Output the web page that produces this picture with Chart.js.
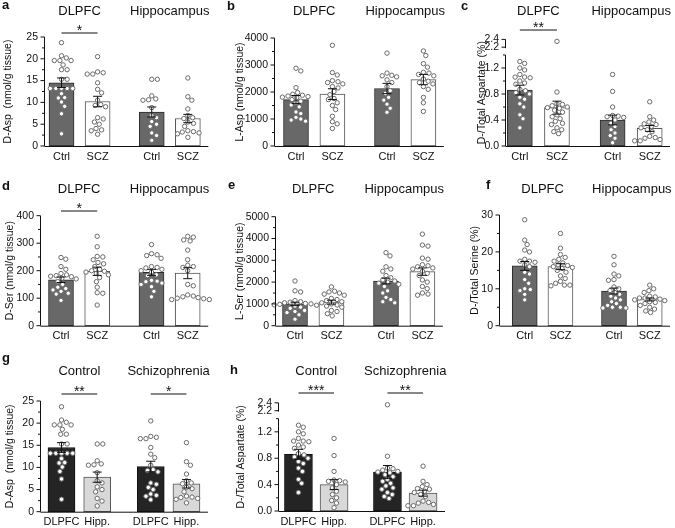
<!DOCTYPE html>
<html>
<head>
<meta charset="utf-8">
<script src="https://cdn.jsdelivr.net/npm/chart.js@4.4.1/dist/chart.umd.min.js"></script>
<style>
  html, body { margin: 0; padding: 0; background: #fff; }
  #fig { position: relative; width: 675px; height: 528px; overflow: hidden; }
  #fig canvas { position: absolute; }
  .letter { position: absolute; font: bold 13px "Liberation Sans", Arial, sans-serif; line-height: 13px; color: #111; }
</style>
</head>
<body>
<div id="fig"></div>
<script>
// ---- labels ----
const groupLabels = ['Ctrl', 'SCZ', 'Ctrl', 'SCZ'];
const regionLabels = ['DLPFC', 'Hippocampus'];
const tissueLabels = ['DLPFC', 'Hipp.', 'DLPFC', 'Hipp.'];
const diagnosisLabels = ['Control', 'Schizophrenia'];

// ---- D-Asp (nmol/g tissue) ----
const dAspMeans = [14.5, 10.2, 7.8, 6.3];
const dAspSems = [1.1, 1.2, 1.15, 0.95];
const dAspCtrlDlpfc = [23.7, 20.7, 20.2, 19.6, 19.6, 19.6, 18.6, 17.5, 17.5, 15.3, 15.3, 13.2, 13.2, 13.2, 13.2, 13.2, 12.0, 11.1, 11.0, 10.1, 9.1, 7.4, 2.8];
const dAspSczDlpfc = [20.5, 17.0, 16.8, 16.5, 16.5, 14.5, 13.0, 12.2, 10.5, 9.5, 9.3, 9.0, 6.5, 6.2, 5.5, 5.0, 4.0, 3.7, 3.5, 2.7];
const dAspCtrlHipp = [15.3, 15.3, 11.5, 10.8, 10.6, 10.5, 8.8, 7.0, 6.5, 5.6, 5.0, 4.5, 3.0, 2.4, 1.3];
const dAspSczHipp = [15.6, 11.3, 10.5, 8.5, 7.0, 6.5, 6.3, 5.5, 5.2, 4.5, 3.5, 3.3, 3.2, 3.0, 2.8, 2.0];

// ---- L-Asp (nmol/g tissue) ----
const lAspMeans = [1720, 1920, 2130, 2460];
const lAspSems = [150, 200, 190, 190];
const lAspCtrlDlpfc = [2880, 2780, 2160, 1980, 1920, 1880, 1850, 1830, 1810, 1790, 1720, 1660, 1600, 1520, 1450, 1260, 1200, 1060, 1000, 960, 920];
const lAspSczDlpfc = [3730, 2720, 2630, 2420, 2380, 2350, 2300, 2200, 2150, 2020, 1900, 1760, 1720, 1600, 1500, 1350, 1100, 900, 820, 650];
const lAspCtrlHipp = [3440, 2700, 2620, 2600, 2560, 2450, 2350, 2200, 2050, 1950, 1800, 1700, 1550, 1400, 1250];
const lAspSczHipp = [3520, 3350, 3050, 2920, 2730, 2700, 2650, 2600, 2480, 2400, 2350, 2300, 2200, 2100, 1800, 1600, 1280];

// ---- D-/Total Aspartate (%) ----
const dAspRatioMeans = [0.86, 0.59, 0.40, 0.27];
const dAspRatioSems = [0.075, 0.1, 0.075, 0.045];
const dAspRatioCtrlDlpfc = [1.30, 1.27, 1.20, 1.17, 1.10, 1.06, 1.06, 1.05, 1.0, 0.97, 0.95, 0.87, 0.85, 0.82, 0.80, 0.75, 0.72, 0.65, 0.60, 0.48, 0.42, 0.28];
const dAspRatioSczDlpfc = [2.35, 0.83, 0.65, 0.64, 0.62, 0.60, 0.59, 0.58, 0.55, 0.52, 0.48, 0.45, 0.42, 0.38, 0.35, 0.33, 0.28, 0.25, 0.22, 0.19];
const dAspRatioCtrlHipp = [1.10, 0.84, 0.60, 0.47, 0.46, 0.45, 0.44, 0.40, 0.35, 0.30, 0.25, 0.20, 0.16, 0.12, 0.05];
const dAspRatioSczHipp = [0.68, 0.45, 0.40, 0.37, 0.34, 0.33, 0.30, 0.28, 0.25, 0.22, 0.15, 0.13, 0.12, 0.10, 0.08, 0.08];

// ---- D-Ser (nmol/g tissue) ----
const dSerMeans = [167, 198, 194, 191];
const dSerSems = [10, 15, 11, 20];
const dSerCtrlDlpfc = [248, 242, 215, 205, 190, 185, 182, 180, 178, 172, 170, 160, 150, 140, 135, 130, 125, 118, 115, 92];
const dSerSczDlpfc = [325, 287, 252, 250, 240, 230, 225, 215, 205, 200, 198, 195, 190, 185, 175, 160, 140, 120, 118, 75];
const dSerCtrlHipp = [295, 262, 258, 255, 245, 215, 212, 210, 205, 200, 195, 185, 182, 165, 162, 160, 155, 150, 142, 125, 105];
const dSerSczHipp = [325, 322, 312, 308, 275, 240, 220, 215, 212, 200, 150, 145, 112, 108, 105, 102, 100, 98, 95, 95];

// ---- L-Ser (nmol/g tissue) ----
const lSerMeans = [1000, 1080, 2050, 2480];
const lSerSems = [80, 90, 130, 170];
const lSerCtrlDlpfc = [2050, 1600, 1550, 1150, 1100, 1080, 1050, 1020, 1000, 980, 960, 940, 900, 850, 800, 700, 650, 600, 500, 300];
const lSerSczDlpfc = [1780, 1580, 1550, 1500, 1450, 1400, 1250, 1200, 1150, 1100, 1050, 1000, 950, 900, 850, 700, 650, 550, 450];
const lSerCtrlHipp = [3350, 3200, 2700, 2600, 2500, 2300, 2200, 2100, 2050, 2000, 1950, 1900, 1800, 1600, 1500, 1300, 1200, 1100, 1050];
const lSerSczHipp = [4200, 3700, 3650, 3100, 3050, 2800, 2750, 2700, 2650, 2600, 2500, 2400, 2300, 2100, 2000, 1800, 1700, 1500, 1450, 1400];

// ---- D-/Total Serine (%) ----
const dSerRatioMeans = [16.2, 16.0, 9.4, 7.1];
const dSerRatioSems = [1.2, 0.8, 0.8, 0.4];
const dSerRatioCtrlDlpfc = [28.7, 23.2, 22.0, 20.5, 20.0, 18.0, 17.5, 17.5, 17.2, 16.5, 16.0, 14.5, 14.0, 12.5, 11.5, 10.0, 9.8, 9.5, 8.5, 7.0];
const dSerRatioSczDlpfc = [25.0, 21.0, 19.3, 18.5, 18.0, 17.5, 17.0, 16.5, 16.3, 16.0, 15.8, 15.5, 15.0, 14.5, 13.5, 12.8, 12.0, 11.5, 11.0, 11.0, 10.8];
const dSerRatioCtrlHipp = [18.8, 16.5, 14.0, 13.5, 12.5, 12.3, 10.5, 10.0, 9.5, 9.0, 8.5, 8.0, 7.5, 7.0, 6.5, 6.0, 5.5, 5.0, 5.0, 4.8, 4.8];
const dSerRatioSczHipp = [11.0, 10.0, 9.5, 9.0, 8.0, 7.8, 7.5, 7.5, 7.2, 7.0, 6.8, 6.5, 6.3, 6.0, 5.5, 5.0, 4.5, 4.0, 3.6];

// region order (Ctrl DLPFC, SCZ DLPFC, Ctrl Hipp, SCZ Hipp) -> diagnosis order (Ctrl DLPFC, Ctrl Hipp, SCZ DLPFC, SCZ Hipp)
const byDiagnosis = arr => [arr[0], arr[2], arr[1], arr[3]];

const barPos = [0, 1, 2.5, 3.5];
const plain = v => v;
// broken axis for the ratio plots: values above 2 are squeezed in above the gap
const broken = v => (v <= 1.45 ? v : 1.52 + (v - 2.2) * 0.6);

const greyFill = ['#686868', '#ffffff', '#686868', '#ffffff'];
const greyEdge = ['#2a2a2a', '#555555', '#2a2a2a', '#555555'];
const darkFill = ['#242424', '#d8d8d8', '#242424', '#d8d8d8'];
const darkEdge = ['#111111', '#555555', '#111111', '#555555'];

function steps(max, step) {
  const out = [];
  for (let v = 0; v <= max + 1e-9; v += step) out.push(+v.toFixed(4));
  return out;
}

const ratioTicks = { major: [0, 0.4, 0.8, 1.2, 2.2, 2.4], minor: [0.2, 0.6, 1.0, 1.4], fmt: v => v.toFixed(1) };

const panels = [
  { id: 'a', box: [0, 0, 225, 175], axisX: 45, zeroY: 146, topY: 37, c0: 61.5, unit: 36.1, barW: 25,
    yMax: 25, major: steps(25, 5), minor: steps(25, 2.5), fmt: v => String(v), tf: plain,
    yTitle: 'D-Asp  (nmol/g tissue)', titleX: 8, headers: regionLabels, headerY: 15, cats: groupLabels,
    means: dAspMeans, sems: dAspSems, points: [dAspCtrlDlpfc, dAspSczDlpfc, dAspCtrlHipp, dAspSczHipp],
    fill: greyFill, edge: greyEdge, sig: [{ a: 0, b: 1, y: 33, t: '*' }] },
  { id: 'b', box: [225, 0, 225, 175], axisX: 275, zeroY: 146, topY: 38, c0: 296, unit: 36.4, barW: 25,
    yMax: 4000, major: steps(4000, 1000), minor: steps(4000, 500), fmt: v => String(v), tf: plain,
    yTitle: 'L-Asp (nmol/g tissue)', titleX: 240, headers: regionLabels, headerY: 15, cats: groupLabels,
    means: lAspMeans, sems: lAspSems, points: [lAspCtrlDlpfc, lAspSczDlpfc, lAspCtrlHipp, lAspSczHipp],
    fill: greyFill, edge: greyEdge, sig: [] },
  { id: 'c', box: [450, 0, 225, 175], axisX: 506, zeroY: 146, topY: 39.4, c0: 520, unit: 37.5, barW: 25,
    yMax: broken(2.4), major: ratioTicks.major, minor: ratioTicks.minor, fmt: ratioTicks.fmt, tf: broken, breakAxis: true,
    yTitle: 'D-/Total Aspartate (%)', titleX: 482, headers: regionLabels, headerY: 15, cats: groupLabels,
    means: dAspRatioMeans, sems: dAspRatioSems, points: [dAspRatioCtrlDlpfc, dAspRatioSczDlpfc, dAspRatioCtrlHipp, dAspRatioSczHipp],
    fill: greyFill, edge: greyEdge, sig: [{ a: 0, b: 1, y: 30, t: '**' }] },
  { id: 'd', box: [0, 175, 225, 175], axisX: 41, zeroY: 325.7, topY: 215.7, c0: 61, unit: 36.2, barW: 25,
    yMax: 400, major: steps(400, 100), minor: steps(400, 50), fmt: v => String(v), tf: plain,
    yTitle: 'D-Ser (nmol/g tissue)', titleX: 10, headers: regionLabels, headerY: 193, cats: groupLabels,
    means: dSerMeans, sems: dSerSems, points: [dSerCtrlDlpfc, dSerSczDlpfc, dSerCtrlHipp, dSerSczHipp],
    fill: greyFill, edge: greyEdge, sig: [{ a: 0, b: 1, y: 211, t: '*' }] },
  { id: 'e', box: [225, 175, 225, 175], axisX: 276, zeroY: 325.7, topY: 216.7, c0: 295, unit: 36.4, barW: 25,
    yMax: 5000, major: steps(5000, 1000), minor: steps(5000, 500), fmt: v => String(v), tf: plain,
    yTitle: 'L-Ser (nmol/g tissue)', titleX: 240, headers: regionLabels, headerY: 193, cats: groupLabels,
    means: lSerMeans, sems: lSerSems, points: [lSerCtrlDlpfc, lSerSczDlpfc, lSerCtrlHipp, lSerSczHipp],
    fill: greyFill, edge: greyEdge, sig: [] },
  { id: 'f', box: [450, 175, 225, 175], axisX: 500, zeroY: 325.7, topY: 215, c0: 525, unit: 36.1, barW: 25,
    yMax: 30, major: steps(30, 10), minor: steps(30, 5), fmt: v => String(v), tf: plain,
    yTitle: 'D-/Total Serine (%)', titleX: 475, headers: regionLabels, headerY: 193, cats: groupLabels,
    means: dSerRatioMeans, sems: dSerRatioSems, points: [dSerRatioCtrlDlpfc, dSerRatioSczDlpfc, dSerRatioCtrlHipp, dSerRatioSczHipp],
    fill: greyFill, edge: greyEdge, sig: [] },
  { id: 'g', box: [0, 350, 225, 178], axisX: 41, zeroY: 511.7, topY: 401, c0: 61.5, unit: 35.7, barW: 27,
    yMax: 25, major: steps(25, 5), minor: steps(25, 2.5), fmt: v => String(v), tf: plain,
    yTitle: 'D-Asp  (nmol/g tissue)', titleX: 10, headers: diagnosisLabels, headerY: 375, cats: tissueLabels,
    means: byDiagnosis(dAspMeans), sems: byDiagnosis(dAspSems),
    points: byDiagnosis([dAspCtrlDlpfc, dAspSczDlpfc, dAspCtrlHipp, dAspSczHipp]),
    fill: darkFill, edge: darkEdge, sig: [{ a: 0, b: 1, y: 394, t: '**' }, { a: 2.5, b: 3.5, y: 394, t: '*' }] },
  { id: 'h', box: [225, 350, 225, 178], axisX: 279, zeroY: 511, topY: 402.8, c0: 298.5, unit: 35.7, barW: 28,
    yMax: broken(2.4), major: ratioTicks.major, minor: ratioTicks.minor, fmt: ratioTicks.fmt, tf: broken, breakAxis: true,
    yTitle: 'D-/Total Aspartate (%)', titleX: 241, headers: diagnosisLabels, headerY: 375, cats: tissueLabels,
    means: byDiagnosis(dAspRatioMeans), sems: byDiagnosis(dAspRatioSems),
    points: byDiagnosis([dAspRatioCtrlDlpfc, dAspRatioSczDlpfc, dAspRatioCtrlHipp, dAspRatioSczHipp]),
    fill: darkFill, edge: darkEdge, sig: [{ a: 0, b: 1, y: 393, t: '***' }, { a: 2.5, b: 3.5, y: 393, t: '**' }] }
];

const letters = [
  ['a', 2, -2], ['b', 227, -1], ['c', 461, -1],
  ['d', 2, 179], ['e', 228, 177.5], ['f', 486, 178],
  ['g', 2, 351], ['h', 230, 363]
];

const FONT = '"Liberation Sans", Arial, sans-serif';
Chart.defaults.font.family = FONT;
Chart.defaults.color = '#111';

const specs = {};

// axes, error bars, headers and significance marks
const panelDecor = {
  id: 'panelDecor',
  afterDatasetsDraw(chart) {
    const p = specs[chart.canvas.id];
    const { ctx, chartArea: ca, scales: { x, y } } = chart;
    const py = v => y.getPixelForValue(p.tf(v));
    ctx.save();
    ctx.strokeStyle = '#111';
    ctx.fillStyle = '#111';
    ctx.lineWidth = 1;
    const seg = (x1, y1, x2, y2) => { ctx.beginPath(); ctx.moveTo(x1, y1); ctx.lineTo(x2, y2); ctx.stroke(); };

    // error bars
    p.means.forEach((m, i) => {
      const cx = x.getPixelForValue(barPos[i]);
      const hi = py(m + p.sems[i]);
      const lo = py(m - p.sems[i]);
      seg(cx, hi, cx, lo);
      seg(cx - 4.5, hi, cx + 4.5, hi);
      seg(cx - 4.5, lo, cx + 4.5, lo);
    });

    // y axis
    const ax = ca.left - 0.5;
    if (p.breakAxis) {
      seg(ax, py(0), ax, py(1.4));
      seg(ax, py(2.2) + 1, ax, py(2.4));
    } else {
      seg(ax, py(0), ax, py(p.yMax));
    }
    p.major.forEach(v => seg(ax - 4, py(v), ax, py(v)));
    p.minor.forEach(v => { if (!p.major.includes(v)) seg(ax - 2.5, py(v), ax, py(v)); });

    // x baseline
    seg(ax, py(0) + 0.5, ca.right, py(0) + 0.5);

    // group headers
    ctx.font = '13px ' + FONT;
    ctx.textAlign = 'center';
    ctx.textBaseline = 'alphabetic';
    p.headers.forEach((h, i) => {
      const cx = x.getPixelForValue(i === 0 ? 0.5 : 3.0);
      ctx.fillText(h, cx, p.headerY - p.box[1]);
    });

    // significance brackets
    p.sig.forEach(s => {
      const x1 = x.getPixelForValue(s.a);
      const x2 = x.getPixelForValue(s.b);
      const yy = s.y - p.box[1];
      seg(x1, yy, x2, yy);
      ctx.font = '14px ' + FONT;
      ctx.fillText(s.t, (x1 + x2) / 2, yy + 1.5);
    });
    ctx.restore();
  }
};

// spread the dots of each group sideways so they do not overlap
function swarm(chart, p) {
  const { x, y } = chart.scales;
  const gap = 5.0;
  const pts = [];
  p.points.forEach((vals, g) => {
    const cx = x.getPixelForValue(barPos[g]);
    const placed = [];
    vals.slice().sort((a, b) => b - a).forEach(v => {
      const vy = y.getPixelForValue(p.tf(v));
      let off = 0;
      for (let k = 0; k < 60; k++) {
        const cand = (k % 2 ? 1 : -1) * Math.ceil(k / 2) * 0.8;
        const free = placed.every(q => (q[0] - cand) ** 2 + (q[1] - vy) ** 2 >= gap * gap);
        if (free) { off = cand; break; }
      }
      placed.push([off, vy]);
      pts.push({ x: x.getValueForPixel(cx + off), y: p.tf(v) });
    });
  });
  chart.data.datasets[1].data = pts;
  chart.update('none');
}

const fig = document.getElementById('fig');

panels.forEach(p => {
  const [left, top, w, h] = p.box;
  const cv = document.createElement('canvas');
  cv.id = 'panel-' + p.id;
  cv.width = w;
  cv.height = h;
  cv.style.left = left + 'px';
  cv.style.top = top + 'px';
  cv.style.width = w + 'px';
  cv.style.height = h + 'px';
  fig.appendChild(cv);
  specs[cv.id] = p;

  const right = p.c0 + 3.5 * p.unit + p.barW / 2 + 8;
  const xMin = (p.axisX - p.c0) / p.unit;
  const xMax = (right - p.c0) / p.unit;

  const chart = new Chart(cv, {
    type: 'bar',
    data: {
      datasets: [
        {
          type: 'bar',
          data: p.means.map((m, i) => ({ x: barPos[i], y: p.tf(m) })),
          backgroundColor: p.fill,
          borderColor: p.edge,
          borderWidth: 1,
          borderSkipped: false,
          barThickness: p.barW,
          order: 2,
          clip: false
        },
        {
          type: 'scatter',
          data: [],
          pointRadius: 2.2,
          pointBackgroundColor: '#ffffff',
          pointBorderColor: '#6a6a6a',
          pointBorderWidth: 1,
          order: 1,
          clip: false
        }
      ]
    },
    options: {
      responsive: false,
      animation: false,
      devicePixelRatio: 1,
      events: [],
      layout: { padding: { top: p.topY - top, right: left + w - right, left: 0, bottom: 0 } },
      plugins: { legend: { display: false }, tooltip: { enabled: false } },
      scales: {
        x: {
          type: 'linear',
          min: xMin,
          max: xMax,
          offset: false,
          grid: { display: false, drawTicks: false },
          border: { display: false },
          afterBuildTicks: s => { s.ticks = barPos.map(v => ({ value: v })); },
          afterFit: s => { s.height = top + h - p.zeroY; },
          ticks: { autoSkip: false, maxRotation: 0, padding: 4, font: { size: 11 }, color: '#111',
                   callback: (v, i) => p.cats[i] }
        },
        y: {
          type: 'linear',
          min: 0,
          max: p.yMax,
          grid: { display: false, drawTicks: false },
          border: { display: false },
          afterBuildTicks: s => { s.ticks = p.major.map(v => ({ value: p.tf(v) })); },
          afterFit: s => { s.width = p.axisX - left; },
          ticks: { autoSkip: false, padding: 7, font: { size: 10.5 }, color: '#111',
                   callback: (v, i) => p.fmt(p.major[i]) },
          title: { display: true, text: p.yTitle, color: '#111', font: { size: 10.5 },
                   padding: { top: p.titleX - left - 6.3, bottom: 0 } }
        }
      }
    },
    plugins: [panelDecor]
  });
  swarm(chart, p);
});

letters.forEach(([t, lx, ly]) => {
  const d = document.createElement('div');
  d.className = 'letter';
  d.textContent = t;
  d.style.left = lx + 'px';
  d.style.top = ly + 'px';
  fig.appendChild(d);
});
</script>
</body>
</html>
